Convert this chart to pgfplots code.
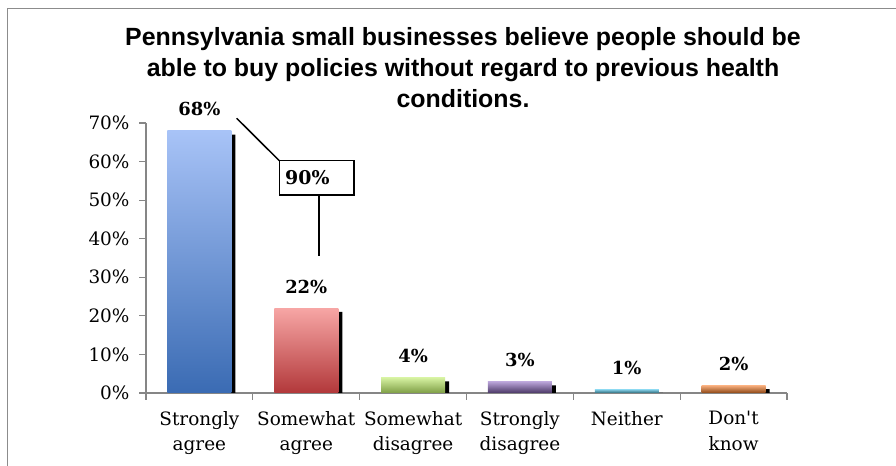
\documentclass[border=0pt]{standalone}
\usepackage{fontspec}
\setmainfont{DejaVu Serif}
\newfontfamily\plainserif{DejaVu Serif}
\newfontfamily\titlefont{Liberation Sans}
\usepackage{pgfplots}
\pgfplotsset{compat=1.18}

\definecolor{axgray}{HTML}{868686}
\definecolor{frame}{HTML}{8C8C8C}
\definecolor{blueT}{HTML}{A8C3F7}
\definecolor{blueB}{HTML}{3A6BB3}
\definecolor{redT}{HTML}{F7A6A5}
\definecolor{redB}{HTML}{B2383A}
\definecolor{greenT}{HTML}{D6F2A2}
\definecolor{greenB}{HTML}{7E9E45}
\definecolor{purpT}{HTML}{BCA6DB}
\definecolor{purpB}{HTML}{4A3866}
\definecolor{cyanT}{HTML}{8AD6EE}
\definecolor{cyanB}{HTML}{2C6878}
\definecolor{orT}{HTML}{F9B07F}
\definecolor{orB}{HTML}{8C4614}

\begin{document}
\begin{tikzpicture}[x=1bp,y=1bp]
\begin{axis}[
  at={(146bp,73bp)}, anchor=south west,
  scale only axis, width=641bp, height=270bp,
  xmin=-0.5, xmax=5.5, ymin=0, ymax=70,
  axis lines*=left,
  axis line style={axgray, line width=1.2bp},
  tick align=outside,
  major tick length=7bp,
  tick style={axgray, line width=1.2bp},
  ytick={0,10,20,30,40,50,60,70},
  yticklabel={\pgfmathprintnumber{\tick}\%},
  xtick={-0.5,0.5,1.5,2.5,3.5,4.5,5.5},
  xticklabels={},
  extra x ticks={0,1,2,3,4,5},
  extra x tick labels={Strongly\\agree, Somewhat\\agree, Somewhat\\disagree, Strongly\\disagree, Neither, {\plainserif Don't}\\know},
  extra x tick style={major tick length=0pt},
  ticklabel style={font=\fontsize{18.5}{25.5}\selectfont, text=black},
  xticklabel style={align=center, anchor=north, yshift=-15bp},
  yticklabel style={xshift=-6bp},
  /pgf/number format/assume math mode=true,
  ybar, bar width=64bp,
  clip=false,
  every node near coord/.append style={font=\bfseries\fontsize{18}{20}\selectfont, anchor=base, yshift=15bp, inner sep=0pt},
  nodes near coords style={anchor=base},
]
\addplot[fill=black, draw=none, bar shift=4bp] coordinates {(0,67) (1,21) (2,3) (3,2) (4,0) (5,1)};
\addplot[draw=none, top color=blueT, bottom color=blueB, bar shift=0pt, nodes near coords={\pgfmathprintnumber{\pgfplotspointmeta}\%}] coordinates {(0,68)};
\addplot[draw=none, top color=redT, bottom color=redB, bar shift=0pt, nodes near coords={\pgfmathprintnumber{\pgfplotspointmeta}\%}] coordinates {(1,22)};
\addplot[draw=none, top color=greenT, bottom color=greenB, bar shift=0pt, nodes near coords={\pgfmathprintnumber{\pgfplotspointmeta}\%}] coordinates {(2,4)};
\addplot[draw=none, top color=purpT, bottom color=purpB, bar shift=0pt, nodes near coords={\pgfmathprintnumber{\pgfplotspointmeta}\%}] coordinates {(3,3)};
\addplot[draw=none, top color=cyanT, bottom color=cyanB, bar shift=0pt, nodes near coords={\pgfmathprintnumber{\pgfplotspointmeta}\%}] coordinates {(4,1)};
\addplot[draw=none, top color=orT, bottom color=orB, bar shift=0pt, nodes near coords={\pgfmathprintnumber{\pgfplotspointmeta}\%}] coordinates {(5,2)};
\end{axis}
% title
\begin{scope}[every node/.style={font=\titlefont\bfseries\fontsize{25}{28}\selectfont, anchor=base, inner sep=0pt}]
\node at (463,420) {Pennsylvania small businesses believe people should be};
\node at (463,389) {able to buy policies without regard to previous health};
\node at (463,358) {conditions.};
\end{scope}
% callout
\draw[line width=1.5bp] (236.7,347.7) -- (279.3,305.3);
\draw[line width=1.5bp, fill=white] (279.3,305.3) rectangle (354,271);
\node[anchor=base west, inner sep=0pt, font=\bfseries\fontsize{19}{20}\selectfont] at (285,281) {90\%};
\draw[line width=1.5bp] (319,271) -- (319,210);
% frame
\draw[frame, line width=1.5bp] (7.5,-5) -- (7.5,457.5) -- (900,457.5);
\pgfresetboundingbox
\useasboundingbox (0,0) rectangle (896,466);
\end{tikzpicture}
\end{document}
